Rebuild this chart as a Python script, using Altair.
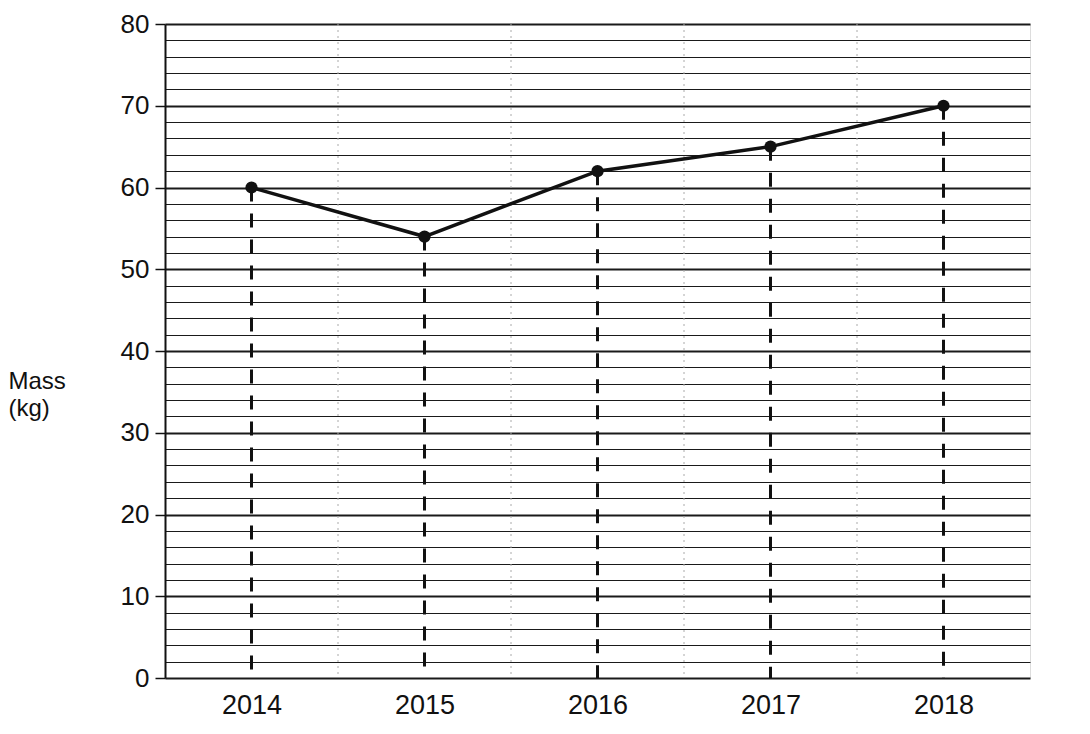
import altair as alt
import pandas as pd

years = [2014, 2015, 2016, 2017, 2018]
mass = [60, 54, 62, 65, 70]
y_ticks = list(range(0, 81, 2))
boundaries = [2014.5, 2015.5, 2016.5, 2017.5]

df = pd.DataFrame({"year": years, "mass": mass})
bdf = pd.DataFrame({"year": boundaries})

FONT = "Liberation Sans"

xscale = alt.Scale(domain=[2013.5, 2018.5], nice=False, zero=False)
yscale = alt.Scale(domain=[0, 80], nice=False)

xaxis = alt.Axis(values=years, format="d", grid=False, ticks=False, domain=False,
                 labelOverlap=False,
                 labelFontSize=27, labelFont=FONT, labelColor="#111", labelPadding=14,
                 title=None)
yaxis = alt.Axis(values=y_ticks, labelOverlap=False,
                 labelExpr="datum.value % 10 === 0 ? datum.label : ''",
                 grid=True, gridColor="#1a1a1a",
                 gridWidth={"condition": {"test": "datum.value % 10 === 0", "value": 2}, "value": 1.2},
                 tickOpacity={"condition": {"test": "datum.value % 10 === 0", "value": 1}, "value": 0},
                 tickColor="#111", tickWidth=1.5, tickSize=10,
                 domainColor="#111", domainWidth=2,
                 labelFontSize=26, labelFont=FONT, labelColor="#111", labelPadding=6,
                 title=["Mass", "(kg)"], titleAngle=0, titleAlign="left", titleBaseline="top",
                 titleX=-157, titleY=345, titleFont=FONT, titleFontSize=24,
                 titleFontWeight="normal", titleColor="#111", titleLineHeight=27)

X = alt.X("year:Q", scale=xscale, axis=xaxis)
Y = alt.Y("mass:Q", scale=yscale, axis=yaxis)

base = alt.Chart(df)

vgrid = alt.Chart(bdf).mark_rule(color="#aaaaaa", strokeWidth=1, strokeDash=[2, 4]).encode(
    x=X
)

drops = base.mark_rule(color="#111", strokeWidth=3, strokeDash=[14, 12]).encode(
    x=X, y=Y, y2=alt.datum(0),
)

line = base.mark_line(color="#111", strokeWidth=3.5).encode(x=X, y=Y)

points = base.mark_point(filled=True, color="#111", size=150, opacity=1, shape="circle").encode(
    x=X, y=Y
)

chart = alt.layer(vgrid, drops, line, points).properties(
    width=865, height=654,
    autosize=alt.AutoSizeParams(type="none"),
    padding={"left": 157, "top": 16, "right": 40, "bottom": 50},
).configure_view(
    stroke="#111", strokeWidth=2
).configure(background="white")

chart.save("out.html", embed_options={"renderer": "svg", "actions": False})
